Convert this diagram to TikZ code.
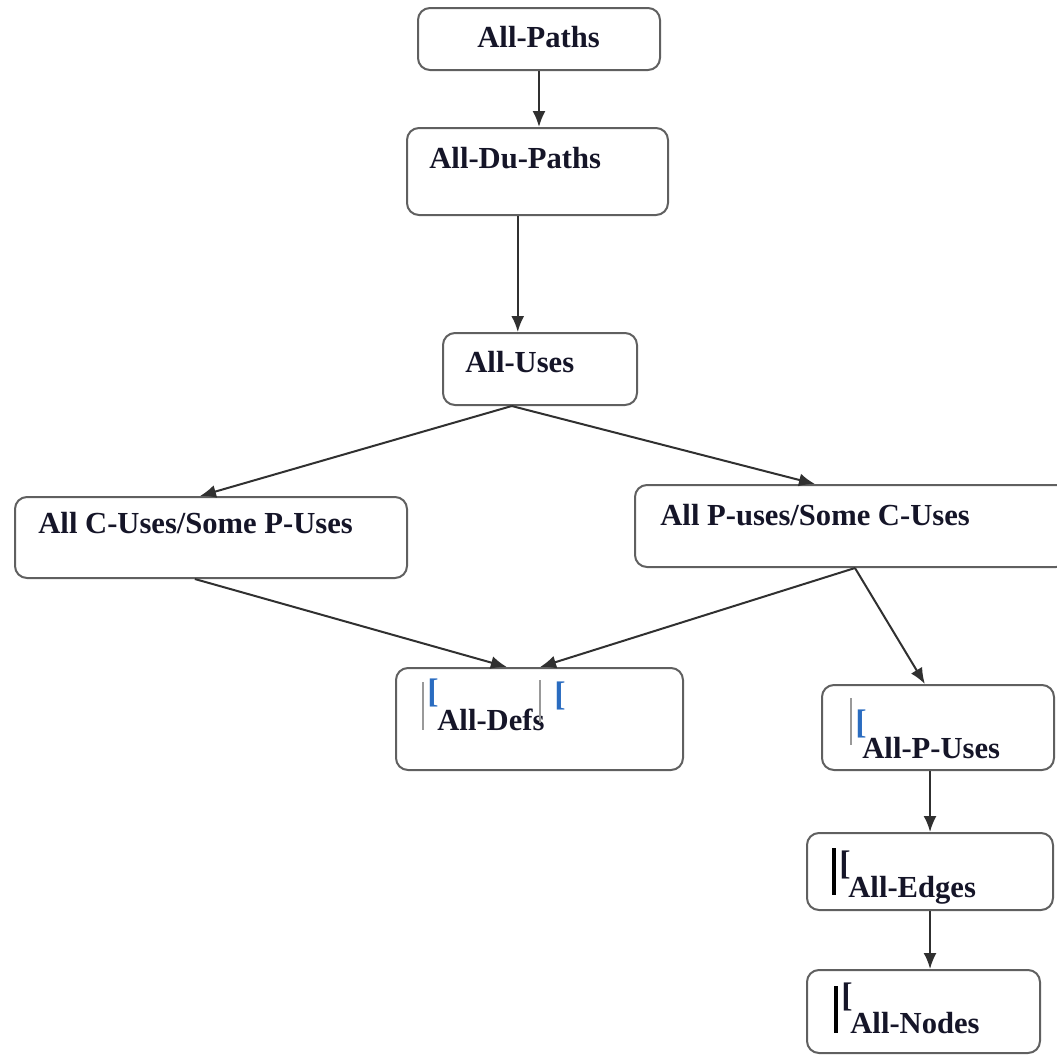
\documentclass[tikz,border=0pt]{standalone}
\usepackage{fontspec}
\setmainfont{Liberation Serif}[BoldFont={Liberation Serif Bold}]
\usetikzlibrary{arrows.meta,calc,fit}

\definecolor{boxline}{HTML}{606060}
\definecolor{arrowline}{HTML}{303030}
\definecolor{ink}{HTML}{151528}
\definecolor{brk}{HTML}{2A6CC0}

\tikzset{
  box/.style={draw=boxline, line width=1pt, rounded corners=6pt, inner sep=0pt},
  lbl/.style={anchor=base west, inner sep=0pt, text=ink,
    font=\fontsize{15.3}{18}\selectfont\bfseries},
  brack/.style={anchor=north west, inner sep=0pt, text=brk,
    font=\fontsize{17}{19}\selectfont\bfseries},
  thinbar/.style={draw=gray!80, line width=0.7pt},
  thickbar/.style={draw=black, line width=2pt},
  link/.style={draw=arrowline, line width=1pt,
    -{Latex[length=8pt,width=6.5pt]}},
}

\begin{document}
\begin{tikzpicture}[x=0.5pt, y=-0.5pt]
  \clip (0,0) rectangle (1057,1057);

  % boxes
  \node[box, fit={(418,8) (660,70)}]     (paths)   {};
  \node[box, fit={(407,128) (668,215)}]  (dupaths) {};
  \node[box, fit={(443,333) (637,405)}]  (uses)    {};
  \node[box, fit={(15,497) (407,578)}]   (cuse)    {};
  \node[box, fit={(635,485) (1068,567)}] (puse)    {};
  \node[box, fit={(396,668) (683,770)}]  (defs)    {};
  \node[box, fit={(822,685) (1054,770)}] (puses)   {};
  \node[box, fit={(807,833) (1053,910)}] (edges)   {};
  \node[box, fit={(807,970) (1040,1053)}] (nodesb) {};

  % labels
  \node[lbl] (tpaths)   at (477,47)   {All-Paths};
  \node[lbl] (tdupaths) at (429,168)  {All-Du-Paths};
  \node[lbl] (tuses)    at (465,372)  {All-Uses};
  \node[lbl] (tcuse)    at (38,533)   {All C-Uses/Some P-Uses};
  \node[lbl] (tpuse)    at (660,525)  {All P-uses/Some C-Uses};
  \node[lbl] (tdefs)    at (437,730)  {All-Defs};
  \node[lbl] (tpuses)   at (862,758)  {All-P-Uses};
  \node[lbl] (tedges)   at (848,897)  {All-Edges};
  \node[lbl] (tnodes)   at (850,1033) {All-Nodes};

  % stray marks beside some labels
  \draw[thinbar] (423,682) -- (423,730);
  \node[brack] (bd1) at (427,678) {[};
  \draw[thinbar] (540,680) -- (540,723);
  \node[brack] (bd2) at (554,681) {[};
  \draw[thinbar] (851,698) -- (851,745);
  \node[brack] (bp1) at (855,709) {[};
  \draw[thickbar] (834,848) -- (834,895);
  \node[brack, text=ink] (be1) at (839,850) {[};
  \draw[thickbar] (836,986) -- (836,1033);
  \node[brack, text=ink] (bn1) at (841,982) {[};

  % connectors
  \draw[link] (paths.south) -- (paths.south |- dupaths.north);
  \draw[link] ($(dupaths.south west)!0.425!(dupaths.south east)$) coordinate (d1)
      -- (d1 |- uses.north);
  \draw[link] ($(uses.south west)!0.356!(uses.south east)$)
      -- ($(cuse.north west)!0.472!(cuse.north east)$);
  \draw[link] ($(uses.south west)!0.356!(uses.south east)$)
      -- ($(puse.north west)!0.416!(puse.north east)$);
  \draw[link] ($(cuse.south west)!0.459!(cuse.south east)$)
      -- ($(defs.north west)!0.387!(defs.north east)$);
  \draw[link] ($(puse.south west)!0.508!(puse.south east)$)
      -- ($(defs.north west)!0.502!(defs.north east)$);
  \draw[link] ($(puse.south west)!0.508!(puse.south east)$)
      -- ($(puses.north west)!0.444!(puses.north east)$);
  \draw[link] ($(puses.south west)!0.466!(puses.south east)$) coordinate (p1)
      -- (p1 |- edges.north);
  \draw[link] (p1 |- edges.south) -- (p1 |- nodesb.north);
\end{tikzpicture}
\end{document}
